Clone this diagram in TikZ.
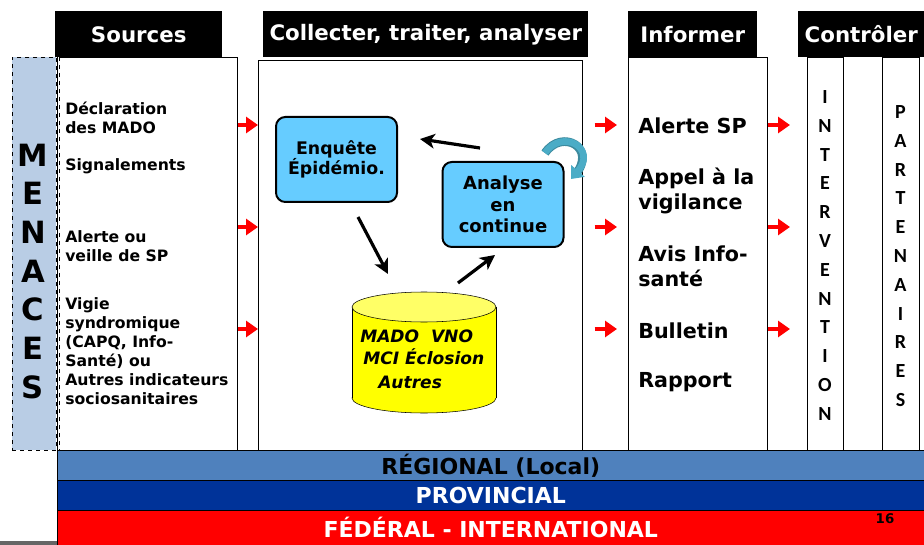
\documentclass[tikz,border=0pt]{standalone}
\usepackage{fontspec}
\setmainfont{DejaVu Sans}
\newfontfamily\lettersfont{Carlito}
\usetikzlibrary{arrows.meta}

\definecolor{menaceblue}{HTML}{B9CDE5}
\definecolor{boxblue}{HTML}{66CCFF}
\definecolor{regionblue}{HTML}{4F81BD}
\definecolor{provblue}{HTML}{003399}
\definecolor{loopblue}{HTML}{4BACC6}
\definecolor{cylyellow}{HTML}{FFFF00}
\definecolor{cyltop}{HTML}{FFFF66}

\tikzset{
  header/.style={fill=black, text=white, anchor=north west, inner sep=0pt,
    minimum height=34.5pt, font=\bfseries\fontsize{16}{19}\selectfont},
  column/.style={draw, fill=white, anchor=north west, inner sep=0pt,
    minimum height=294.75pt},
  srcitem/.style={anchor=west, align=left, inner sep=0pt,
    font=\bfseries\fontsize{11.75}{14.25}\selectfont},
  infitem/.style={anchor=west, align=left, inner sep=0pt,
    font=\bfseries\fontsize{15.5}{18.75}\selectfont},
  bluebox/.style={draw, line width=1.5pt, fill=boxblue, rounded corners=7pt,
    align=center, minimum width=90.75pt, minimum height=63.75pt},
  cylitem/.style={anchor=west, inner sep=0pt,
    font=\bfseries\itshape\fontsize{12.8}{14}\selectfont},
  menletter/.style={font=\bfseries\fontsize{23}{23}\selectfont},
  ctlletter/.style={font=\lettersfont\bfseries\fontsize{15}{15}\selectfont},
  bar/.style={draw, anchor=north west, minimum width=650.25pt, inner sep=0pt,
    font=\bfseries\fontsize{16.5}{18}\selectfont},
  redarrow/.style={red, line width=3pt, -{Triangle[length=9pt,width=12pt]}},
  blackarrow/.style={line width=2.4pt, -{Stealth[length=11pt,width=11pt,inset=3pt]}},
}

\begin{document}
\begin{tikzpicture}[x=0.75pt,y=-0.75pt]
    \useasboundingbox (0,0) rectangle (924,545);

    % colonnes
    \node[column, fill=menaceblue, dashed, minimum width=33pt] (menbox) at (12,57) {};
    \node[column, minimum width=135pt] (srcbox) at (57,57) {};
    \draw[white, line width=1pt] ([xshift=1.5pt]srcbox.north west) -- ([xshift=1.5pt]srcbox.south west);
    \draw[dashed] ([xshift=1.5pt]srcbox.north west) -- ([xshift=1.5pt]srcbox.south west);
    \node[column, minimum width=243pt, minimum height=292.5pt] (colbox) at (258,60) {};
    \node[column, minimum width=104.25pt] (infbox) at (628,57) {};
    \node[column, minimum width=27pt] (intbox) at (807,57) {};
    \node[column, minimum width=27.75pt] (partbox) at (882,57) {};

    % en-tetes
    \node[header, minimum width=125.25pt] (hsrc) at (55,11) {Sources};
    \node[header, minimum width=243.75pt] (hcol) at (263,11) {Collecter, traiter, analyser};
    \node[header, minimum width=96.75pt] (hinf) at (628,11) {Informer};
    \node[header, minimum width=94.5pt] (hctl) at (798,11) {Contrôler};

    % menaces
    \foreach \l [count=\i] in {M,E,N,A,C,E,S}
        \node[menletter] (men\i) at (33,{155+38.7*(\i-1)}) {\l};

    % sources
    \node[srcitem] (decl) at (65,117.5) {Déclaration\\des MADO};
    \node[srcitem] (signal) at (65,166) {Signalements};
    \node[srcitem] (veille) at (65,246) {Alerte ou\\veille de SP};
    \node[srcitem] (vigie) at (65,351) {Vigie\\syndromique\\(CAPQ, Info-\\Santé) ou\\Autres indicateurs\\sociosanitaires};

    % collecter, traiter, analyser
    \node[bluebox, font=\bfseries\fontsize{13}{15}\selectfont] (enq) at (336.5,159.5) {Enquête\\Épidémio.};
    \node[bluebox, font=\bfseries\fontsize{13.5}{16}\selectfont] (ana) at (503,204.5) {Analyse\\en\\continue};

    \draw[fill=cylyellow] (424,398) ellipse [x radius=72, y radius=15];
    \fill[cylyellow] (352,307) rectangle (496,398);
    \draw (352,307) -- (352,398)
          (496,307) -- (496,398);
    \draw[fill=cyltop] (424,307) ellipse [x radius=72, y radius=15];
    \node[cylitem] (cyl1) at (360,336) {MADO~~VNO};
    \node[cylitem] (cyl2) at (363,357) {MCI Éclosion};
    \node[cylitem] (cyl3) at (378,382) {Autres};

    \coordinate (anaout) at (480,148);
    \coordinate (enqin) at (420,139);
    \coordinate (enqout) at (358,217);
    \coordinate (cylin) at (388,274);
    \coordinate (cylout) at (458,283);
    \coordinate (anain) at (495,255);
    \draw[blackarrow] (anaout) -- (enqin);
    \draw[blackarrow] (enqout) -- (cylin);
    \draw[blackarrow] (cylout) -- (anain);

    \coordinate (loopstart) at (545,153);
    \coordinate (loopend) at (571,179);
    \draw[loopblue!80!black, line width=6.5pt]
        (loopstart) .. controls (562,128) and (598,148) .. ([shift={(4,-4)}]loopend);
    \draw[loopblue, line width=5pt, -{Triangle[length=8pt,width=13pt]}]
        (loopstart) .. controls (562,128) and (598,148) .. (loopend);

    % informer
    \node[infitem] (alsp) at (638,126) {Alerte SP};
    \node[infitem] (appel) at (638,190.5) {Appel à la\\vigilance};
    \node[infitem] (avis) at (638,266.5) {Avis Info-\\santé};
    \node[infitem] (bull) at (638,331) {Bulletin};
    \node[infitem] (rapp) at (638,382) {Rapport};

    % controler
    \foreach \l [count=\i] in {I,N,T,E,R,V,E,N,T,I,O,N}
        \node[ctlletter] (int\i) at (825,{97+28.8*(\i-1)}) {\l};
    \foreach \l [count=\i] in {P,A,R,T,E,N,A,I,R,E,S}
        \node[ctlletter] (part\i) at (900.5,{112+28.8*(\i-1)}) {\l};

    % fleches rouges
    \foreach \y in {125,227,329} {
        \draw[redarrow] (srcbox.east |- 0,\y) -- (colbox.west |- 0,\y);
        \draw[redarrow, shorten <=9pt, shorten >=8.25pt] (colbox.east |- 0,\y) -- (infbox.west |- 0,\y);
        \draw[redarrow, shorten >=12.75pt] (infbox.east |- 0,\y) -- (intbox.west |- 0,\y);
    }

    % niveaux
    \node[bar, fill=regionblue, minimum height=22.5pt] (reg) at (57,450) {RÉGIONAL (Local)};
    \node[bar, fill=provblue, text=white, minimum height=22.5pt] (prov) at (57,480) {PROVINCIAL};
    \node[bar, fill=red, text=white, minimum height=26.25pt] (fed) at (57,510) {FÉDÉRAL - INTERNATIONAL};
    \node[font=\bfseries\fontsize{10}{11}\selectfont, inner sep=0pt] (page) at (885,519) {16};
    \draw[black!60, line width=3pt] (0,543) -- (fed.south west |- 0,543);
\end{tikzpicture}
\end{document}
